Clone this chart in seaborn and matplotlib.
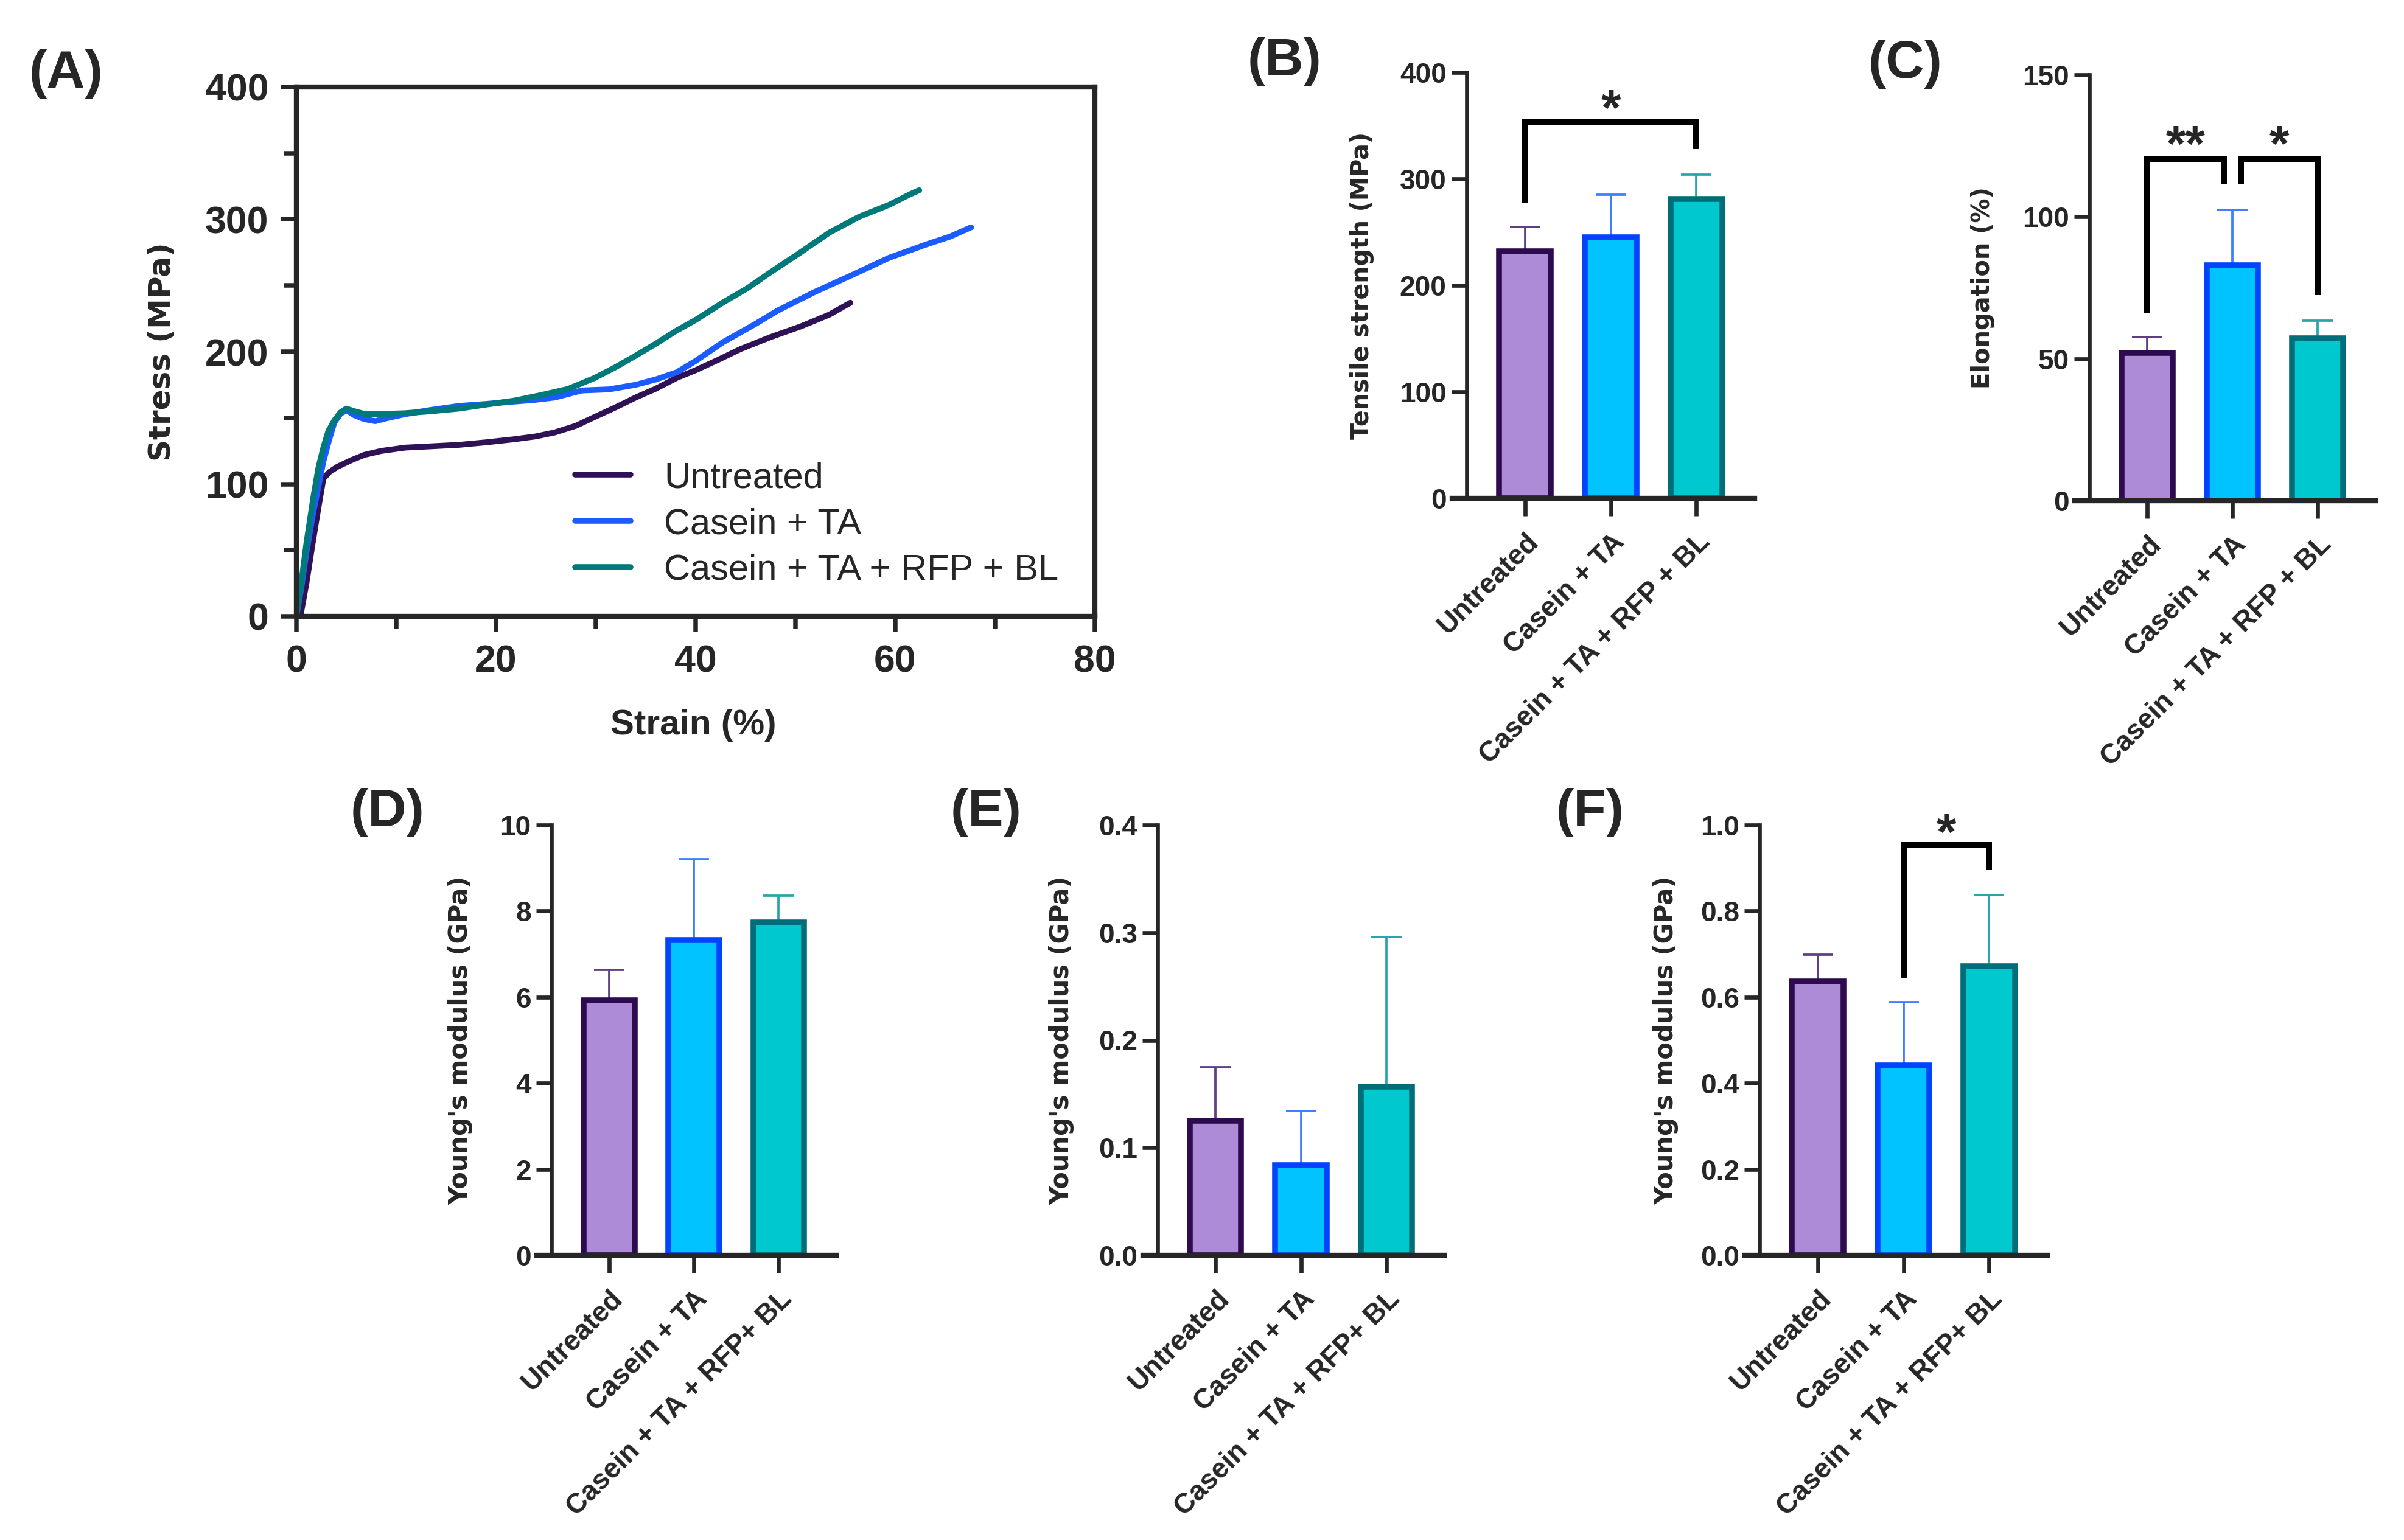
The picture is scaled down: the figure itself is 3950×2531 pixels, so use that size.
import numpy as np
import pandas as pd
import matplotlib
matplotlib.use("Agg")
import matplotlib.pyplot as plt
from matplotlib.ticker import MultipleLocator, FormatStrFormatter
import seaborn as sns

# ---------------- data ----------------
series_names = ["Untreated", "Casein + TA", "Casein + TA + RFP + BL"]

strain_untreated = [0.4, 1.0, 1.6, 2.2, 2.7, 3.3, 4.1, 5.5, 6.8, 8.5, 10.9, 13.5, 16.3, 19.0,
                    21.8, 24.0, 25.9, 28.0, 29.9, 32.0, 34.0, 36.0, 38.1, 40.0, 42.3, 44.5,
                    47.5, 50.5, 53.4, 55.5]
stress_untreated = [0, 25, 54, 82, 104, 109, 113, 118, 122, 125, 127.5, 128.5, 129.6, 131.5,
                    133.8, 136, 139, 144, 150.7, 158, 165.4, 172, 180.2, 186, 194, 202,
                    211, 219, 228, 237]

strain_casein = [0, 0.5, 1.0, 1.6, 2.2, 2.7, 3.3, 3.8, 4.4, 5.0, 5.8, 6.8, 7.9, 9.2, 10.9,
                 13.5, 16.3, 19.0, 21.8, 23.8, 25.9, 28.6, 31.3, 34.0, 36.0, 38.1, 40.0,
                 42.7, 46.0, 48.2, 51.9, 55.7, 59.4, 63.1, 65.5, 67.6]
stress_casein = [0, 22, 48, 75, 98, 117, 134, 146.5, 153, 155.9, 152, 149, 147.5, 150, 152.8,
                 156, 159, 160.5, 162.3, 163.5, 165.4, 170.7, 171.5, 175, 179, 184.4, 193,
                 207, 221, 231, 245, 258, 271, 281, 287, 294]

strain_full = [0, 0.5, 1.0, 1.7, 2.2, 2.7, 3.2, 3.8, 4.4, 5.0, 5.8, 6.8, 8.2, 10.9, 13.5,
               16.3, 19.0, 21.8, 24.4, 27.2, 29.9, 31.9, 34.0, 36.0, 38.1, 40.0, 42.7, 45.2,
               47.5, 50.5, 53.4, 56.4, 59.4, 61.5, 62.4]
stress_full = [0, 26, 55, 90, 112, 127.5, 140, 148, 154, 157, 155, 153, 152.8, 153.5, 155,
               157, 160, 163, 167, 171.8, 180.2, 188, 197, 206, 216, 224, 237, 248,
               260, 275, 290, 302, 311, 319, 322]

groups_bc = ["Untreated", "Casein + TA", "Casein + TA + RFP + BL"]
groups_def = ["Untreated", "Casein + TA", "Casein + TA + RFP+ BL"]

tensile_mean = [232, 245, 281]
tensile_sd = [23, 40, 23]

elong_mean = [52, 82.9, 57.3]
elong_sd = [5.7, 19.5, 6.1]

modulus_d_mean = [5.92, 7.32, 7.74]
modulus_d_sd = [0.72, 1.89, 0.62]

modulus_e_mean = [0.125, 0.084, 0.157]
modulus_e_sd = [0.050, 0.050, 0.139]

modulus_f_mean = [0.636, 0.442, 0.672]
modulus_f_sd = [0.063, 0.146, 0.165]

# significance brackets: (x_left, x_right, y_top, y_left_leg, y_right_leg, star_y, label)
sig_b = [(0, 2, 353, 278, 328, 378, "*")]
sig_c = [(0, 0.9, 120.4, 66, 111.5, 129.9, "**"),
         (1.1, 2, 120.4, 111.5, 72.4, 129.9, "*")]
sig_f = [(1, 2, 0.953, 0.645, 0.895, 1.012, "*")]

# ---------------- style ----------------
line_colors = ["#2f1255", "#1a5cff", "#00797b"]
fill_colors = ["#ae8bd6", "#00c3ff", "#00c8cf"]
edge_colors = ["#2e0a4f", "#0044ff", "#006e78"]
err_colors = ["#5e3f84", "#3d7fff", "#2aa5a8"]

sns.set_style("ticks")
plt.rcParams["font.family"] = ["Liberation Sans", "DejaVu Sans"]
plt.rcParams["axes.linewidth"] = 1.6

W, H = 3950, 2531
DPI = 300
fig = plt.figure(figsize=(W / DPI, H / DPI), dpi=DPI)


def axes_px(x0, x1, ytop, ybot):
    return fig.add_axes([x0 / W, 1 - ybot / H, (x1 - x0) / W, (ybot - ytop) / H])


# ---------------- panel A ----------------
axA = axes_px(487, 1799, 143, 1013)
for sx, sy, name, col in [(strain_untreated, stress_untreated, series_names[0], line_colors[0]),
                          (strain_casein, stress_casein, series_names[1], line_colors[1]),
                          (strain_full, stress_full, series_names[2], line_colors[2])]:
    sns.lineplot(x=sx, y=sy, ax=axA, color=col, lw=2.3, label=name,
                 estimator=None, sort=False)
axA.set_xlim(0, 80)
axA.set_ylim(0, 400)
axA.xaxis.set_major_locator(MultipleLocator(20))
axA.xaxis.set_minor_locator(MultipleLocator(10))
axA.yaxis.set_major_locator(MultipleLocator(100))
axA.yaxis.set_minor_locator(MultipleLocator(50))
for sp in axA.spines.values():
    sp.set_linewidth(2.0)
axA.tick_params(which="major", direction="out", length=6, width=1.8, labelsize=15, pad=5)
axA.tick_params(which="minor", direction="out", length=5, width=1.8)
for lab in axA.get_xticklabels() + axA.get_yticklabels():
    lab.set_fontweight("bold")
axA.set_xlabel("Strain (%)", fontsize=14, fontweight="bold")
axA.xaxis.set_label_coords(0.497, -0.175)
axA.set_ylabel("Stress (MPa)", fontsize=12, fontweight="bold", family="DejaVu Sans")
axA.yaxis.set_label_coords(-0.15, 0.5)
axA.legend(loc="center left", bbox_to_anchor=(0.349, 0.174), frameon=False,
           fontsize=14.3, handlelength=1.53, handletextpad=0.93, labelspacing=0.35,
           borderpad=0, borderaxespad=0)


# ---------------- bar panels ----------------
def bar_panel(ax, groups, means, sds, ymax, ystep, fmt, ylabel, ylab_x, sigs, ylab_size=10):
    df = pd.DataFrame({"group": groups, "value": means})
    sns.barplot(data=df, x="group", y="value", hue="group", palette=fill_colors,
                width=0.6, ax=ax, legend=False, errorbar=None, saturation=1, zorder=2)
    for patch, ec in zip(ax.patches, edge_colors):
        patch.set_edgecolor(ec)
        patch.set_linewidth(2.3)
    for i, (m, s) in enumerate(zip(means, sds)):
        ax.errorbar(i, m, yerr=[[0], [s]], fmt="none", ecolor=err_colors[i],
                    elinewidth=0.9, capsize=6, capthick=0.9, zorder=1)
    ax.set_xlim(-0.68, 2.68)
    ax.set_ylim(0, ymax)
    ax.yaxis.set_major_locator(MultipleLocator(ystep))
    ax.yaxis.set_major_formatter(FormatStrFormatter(fmt))
    sns.despine(ax=ax)
    ax.spines["bottom"].set_bounds(-0.85, 2.68)
    ax.spines["bottom"].set_linewidth(2.0)
    ax.spines["left"].set_linewidth(1.6)
    ax.tick_params(axis="y", direction="out", length=6, width=1.6, labelsize=11, pad=2)
    ax.tick_params(axis="x", direction="out", length=7, width=1.6, labelsize=11, pad=5)
    ax.set_xticks(range(len(groups)))
    ax.set_xticklabels(groups, rotation=45, ha="right", va="top", rotation_mode="anchor",
                       fontweight="bold")
    for lab in ax.get_yticklabels():
        lab.set_fontweight("bold")
    ax.set_xlabel("")
    ax.set_ylabel(ylabel, fontsize=ylab_size, fontweight="bold", family="DejaVu Sans")
    ax.yaxis.set_label_coords(ylab_x, 0.5)
    for (xl, xr, yt, yl, yr, ys, txt) in sigs:
        ax.plot([xl, xl, xr, xr], [yl, yt, yt, yr], color="black", lw=2.4,
                solid_capstyle="butt", solid_joinstyle="miter", clip_on=False, zorder=3)
        ax.annotate(txt, xy=((xl + xr) / 2, ys), xytext=(0, -11.6), textcoords="offset points",
                    ha="center", va="baseline", fontsize=20, fontweight="bold",
                    annotation_clip=False)


axB = axes_px(2410, 2883, 119, 819)
bar_panel(axB, groups_bc, tensile_mean, tensile_sd, 400, 100, "%d",
          "Tensile strength (MPa)", -0.321, sig_b, ylab_size=9.5)

axC = axes_px(3433, 3903, 123, 823)
bar_panel(axC, groups_bc, elong_mean, elong_sd, 150, 50, "%d",
          "Elongation (%)", -0.33, sig_c, ylab_size=9.6)

axD = axes_px(906, 1374, 1356, 2063)
bar_panel(axD, groups_def, modulus_d_mean, modulus_d_sd, 10, 2, "%d",
          "Young's modulus (GPa)", -0.275, [])

axE = axes_px(1902, 2373, 1356, 2063)
bar_panel(axE, groups_def, modulus_e_mean, modulus_e_sd, 0.4, 0.1, "%.1f",
          "Young's modulus (GPa)", -0.289, [])

axF = axes_px(2891, 3364, 1356, 2063)
bar_panel(axF, groups_def, modulus_f_mean, modulus_f_sd, 1.0, 0.2, "%.1f",
          "Young's modulus (GPa)", -0.281, sig_f)

# ---------------- panel letters ----------------
for txt, px, py in [("(A)", 48, 122), ("(B)", 2050, 101), ("(C)", 3070, 106),
                    ("(D)", 576, 1336), ("(E)", 1562, 1336), ("(F)", 2557, 1336)]:
    fig.text(px / W, 1 - py / H, txt, fontsize=21, fontweight="bold", ha="left", va="center")

fig.savefig("out.png", dpi=DPI)
